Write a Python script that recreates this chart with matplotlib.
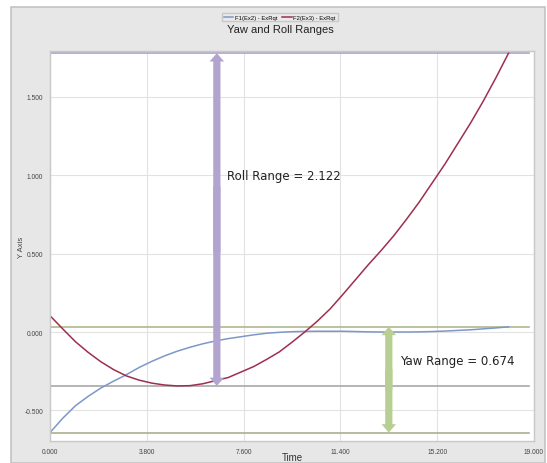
import matplotlib.pyplot as plt
from matplotlib.patches import Rectangle, FancyArrowPatch

# Time samples (s) and the two responses
time = [0, 0.5, 1, 1.5, 2, 2.5, 3, 3.5, 4, 4.5, 5, 5.5, 6, 6.5, 7, 7.5, 8, 8.5, 9,
        9.5, 10, 10.5, 11, 11.5, 12, 12.5, 13, 13.5, 14, 14.5, 15, 15.5, 16, 16.5,
        17, 17.5, 18]
yaw = [-0.641, -0.55, -0.47, -0.41, -0.357, -0.313, -0.272, -0.226, -0.187, -0.152,
       -0.122, -0.097, -0.075, -0.057, -0.042, -0.03, -0.018, -0.008, -0.002, 0.002,
       0.004, 0.005, 0.005, 0.005, 0.003, 0.001, 0.0, 0.0, 0.0, 0.001, 0.003, 0.006,
       0.01, 0.014, 0.02, 0.026, 0.033]
roll = [0.104, 0.02, -0.062, -0.13, -0.19, -0.24, -0.28, -0.307, -0.326, -0.338,
        -0.344, -0.342, -0.33, -0.31, -0.29, -0.255, -0.22, -0.175, -0.127, -0.065,
        0.0, 0.07, 0.148, 0.24, 0.335, 0.43, 0.52, 0.615, 0.72, 0.83, 0.95, 1.07,
        1.2, 1.33, 1.47, 1.62, 1.778]

series_names = ['F1(Ex2) - ExRqt', 'F2(Ex3) - ExRqt']
xticks = [0, 3.8, 7.6, 11.4, 15.2, 19.0]
yticks = [-0.5, 0.0, 0.5, 1.0, 1.5]

roll_arrow_t = 6.55
yaw_arrow_t = 13.3

yaw_min, yaw_max = min(yaw), max(yaw)
roll_min, roll_max = min(roll), max(roll)

fig = plt.figure(figsize=(5.47, 4.64), dpi=100)
fig.patch.set_facecolor('white')
# grey panel behind everything
fig.patches.append(Rectangle((11 / 547, 0), 534 / 547, 1 - 8 / 464,
                             transform=fig.transFigure, facecolor='#e7e7e7',
                             edgecolor='#c4c4c4', linewidth=1.2, zorder=-10))

ax = fig.add_axes([50 / 547, 1 - 442 / 464, 484 / 547, 390 / 464])
ax.set_facecolor('white')
ax.set_xlim(0, 19)
ax.set_ylim(-0.695, 1.792)
ax.set_xticks(xticks)
ax.set_yticks(yticks)
ax.set_xticklabels(['%.3f' % v for v in xticks], fontsize=4.8, color='#444444',
                   family='Liberation Sans')
ax.set_yticklabels(['%.3f' % v for v in yticks], fontsize=4.8, color='#444444',
                   family='Liberation Sans')
ax.tick_params(length=0, pad=5)
ax.grid(True, color='#e2e2e2', linewidth=0.8)
ax.set_axisbelow(True)
for s in ax.spines.values():
    s.set_color('#c8c8c8')
    s.set_linewidth(1.0)

# range marker lines
ax.axhline(roll_max, color='#a9a3c4', linewidth=1.2, xmin=0.0, xmax=0.99)
ax.axhline(yaw_max, color='#b0b68e', linewidth=1.2, xmin=0.0, xmax=0.99)
ax.axhline(roll_min, color='#a8a8a8', linewidth=1.2, xmin=0.0, xmax=0.99)
ax.axhline(yaw_min, color='#aab08e', linewidth=1.2, xmin=0.0, xmax=0.99)

ax.plot(time, yaw, color='#7d97c9', linewidth=1.1, label=series_names[0])
ax.plot(time, roll, color='#9e2f4e', linewidth=1.1, label=series_names[1])


def double_arrow(t, lo, hi, color):
    # two single-headed arrows from overlapping starts so the shaft has no seam
    span = hi - lo
    starts = (lo + 0.6 * span, lo + 0.4 * span)
    for start, end in zip(starts, (lo, hi)):
        ax.add_patch(FancyArrowPatch((t, start), (t, end),
                                     arrowstyle='simple,head_length=0.6,head_width=1.05,tail_width=0.52',
                                     mutation_scale=10, color=color, shrinkA=0,
                                     shrinkB=0, linewidth=0, zorder=4))


double_arrow(roll_arrow_t, roll_min, roll_max, '#b3a3cf')
double_arrow(yaw_arrow_t, yaw_min, yaw_max, '#b7cf92')

ax.text(6.95, 1.0, 'Roll Range = %.3f' % (roll_max - roll_min), fontsize=8.5,
        color='#222222', va='center', ha='left', family='DejaVu Sans')
ax.text(13.75, -0.183, 'Yaw Range = %.3f' % (yaw_max - yaw_min), fontsize=8.5,
        color='#222222', va='center', ha='left', family='DejaVu Sans')

ax.set_xlabel('Time', fontsize=7, color='#333333', family='Liberation Sans')
ax.xaxis.set_label_coords(0.5, -0.027)
ax.set_ylabel('Y Axis', fontsize=5.5, color='#444444', family='Liberation Sans')
ax.yaxis.set_label_coords(-0.052, 0.5)
fig.text(280 / 547, 1 - 30 / 464, 'Yaw and Roll Ranges', fontsize=8, ha='center',
         va='center', color='#222222', family='Liberation Sans')

fig.legend(loc='center', bbox_to_anchor=(280 / 547, 1 - 18 / 464), ncol=2,
           frameon=True, fancybox=False, edgecolor='#c0c0c0',
           facecolor='#ececec', handlelength=1.6, handletextpad=0.3,
           columnspacing=0.8, borderpad=0.3, prop={'family': 'Liberation Sans', 'size': 4.2})

fig.savefig('out.png', dpi=100)
